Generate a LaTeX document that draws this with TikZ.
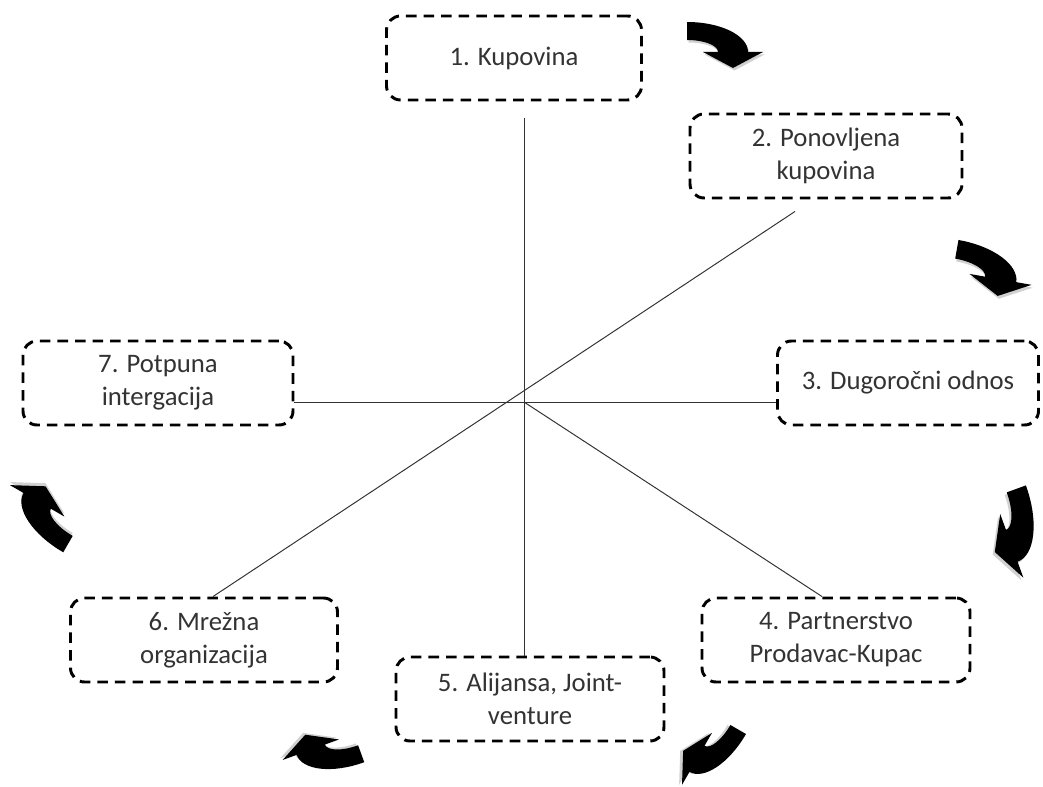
\documentclass[tikz,border=0pt]{standalone}
\usepackage{fontspec}
\setmainfont{Carlito}
\usetikzlibrary{calc, positioning}
\def\px{0.025cm}
\tikzstyle{stage}=[draw, line width=2.1pt, dash pattern=on 7.5pt off 5pt, rounded corners=10pt, minimum height=84*\px, align=center, text=black!80, font=\fontsize{19}{23.5}\selectfont]
\tikzstyle{spoke}=[line width=0.7pt, black!80]
\tikzset{
  turn path/.style={insert path={(0,30) arc[start angle=90, end angle=0, x radius=61, y radius=30] -- (76,0) -- (46,-16) -- (16,0) -- (31,0) arc[start angle=0, end angle=90, x radius=31, y radius=12] -- cycle}},
  pics/turn/.style={code={
    \fill[black!18, shift={(1.5,-2.5)}, turn path];
    \fill[black, turn path];
  }}
}

\begin{document}
\begin{tikzpicture}[x=\px, y=\px]
\useasboundingbox (0,0) rectangle (1043,-787);

% the seven stages
\node[stage, minimum width=255*\px] (S-1) at (514,-58) {1. Kupovina};
\node[stage, minimum width=272*\px] (S-2) at (826,-156) {2. Ponovljena\\kupovina};
\node[stage, minimum width=261*\px] (S-3) at (908,-383) {3. Dugoročni odnos};
\node[stage, minimum width=268*\px] (S-4) at (836,-640) {4. Partnerstvo\\Prodavac-Kupac};
\node[stage, minimum width=268*\px] (S-5) at (530,-699) {5. Alijansa, Joint-\\venture};
\node[stage, minimum width=267*\px] (S-6) at (204,-640) {6. Mrežna\\organizacija};
\node[stage, minimum width=270*\px] (S-7) at (158,-383) {7. Potpuna\\intergacija};

% spokes
\coordinate (hub) at (524,-402);
\draw[spoke] ($(S-1.south -| hub)+(0,-17)$) -- (S-5.north -| hub);
\draw[spoke] (S-7.east |- hub) -- (S-3.west |- hub);
\draw[spoke] ($(S-2.south)+(-31,-12)$) -- ($(S-6.north)+(9,0)$);
\draw[spoke] (hub) -- ($(S-4.north)+(-14,0)$);

% turning arrows between the stages
\foreach \x/\y/\ang/\sc in {687/-52/0/1, 953/-271/-10/1.05, 994/-497/-70/1.13,
                           720/-719/-120/1, 354/-734/200/1, 79/-525/150/1.05}
  \pic[shift={(\x,\y)}, rotate=\ang, scale=\sc] {turn};
\end{tikzpicture}
\end{document}
